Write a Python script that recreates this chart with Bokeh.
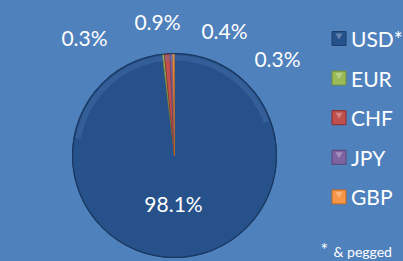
import math
from bokeh.plotting import figure
from bokeh.models import Range1d, ColumnDataSource
from bokeh.core.properties import value
from bokeh.embed import file_html
from bokeh.resources import INLINE

# ---- data ----
currencies = ["USD*", "EUR", "CHF", "JPY", "GBP"]
shares = [98.1, 0.3, 0.9, 0.4, 0.3]
footnote_star = "*"
footnote_text = "& pegged"

# ---- style / layout ----
colors = ["#26518A", "#9BBB59", "#C0504D", "#8064A2", "#F79646"]
border_colors = ["#1C3E6A", "#6F8A3A", "#8C2D2A", "#5A4578", "#B86A26"]
bg = "#4F81BD"
W, H = 403, 261
cx, cy_top, R = 174, 155, 102
# label offsets from pie centre (px, y downward)
label_offsets = [(-1, 48), (-90, -118), (-17, -134), (50, -125), (103, -97)]
legend_x, legend_y0, legend_dy = 338.5, 38, 39.6
FONT = "Lato"

def Y(y):
    return H - y

cy = Y(cy_top)

p = figure(width=W, height=H, output_backend="svg", toolbar_location=None,
           x_range=Range1d(0, W), y_range=Range1d(0, H), min_border=0)
p.axis.visible = False
p.grid.visible = False
p.outline_line_color = None
p.background_fill_color = bg
p.border_fill_color = bg

total = sum(shares)
starts, ends = [], []
acc = 0.0
for s in shares:
    a0 = acc / total * 2 * math.pi
    acc += s
    a1 = acc / total * 2 * math.pi
    starts.append(math.pi / 2 - a0)
    ends.append(math.pi / 2 - a1)

src = ColumnDataSource(dict(start=starts, end=ends, color=colors, lc=border_colors))
p.wedge(x=cx, y=cy, radius=R, start_angle="start", end_angle="end", direction="clock",
        fill_color="color", line_color="lc", line_width=0.8, source=src)
# subtle bevel highlight ring
p.annular_wedge(x=cx, y=cy, inner_radius=R - 7, outer_radius=R - 1.5,
                start_angle=math.radians(20), end_angle=math.radians(170),
                fill_color="#5C88C0", fill_alpha=0.25, line_color=None)
p.circle(x=cx, y=cy, radius=R, fill_color=None, line_color="#1A3860", line_width=1.2)

# data labels
lx = [cx + o[0] for o in label_offsets]
ly = [cy - o[1] for o in label_offsets]
ltxt = [f"{s:.1f}%" for s in shares]
p.text(x=lx, y=ly, text=ltxt, text_font=value(FONT), text_font_size="21px",
       text_color="white", text_align="center", text_baseline="middle")

# legend
ys = [Y(legend_y0 + i * legend_dy) for i in range(len(currencies))]
p.scatter(x=[legend_x] * len(currencies), y=ys, marker="square", size=14,
          fill_color=colors, line_color=border_colors, line_width=1)
p.scatter(x=[legend_x] * len(currencies), y=[y + 3 for y in ys], marker="inverted_triangle",
          size=7, fill_color="white", fill_alpha=0.3, line_color=None)
p.text(x=[legend_x + 12] * len(currencies), y=ys, text=currencies, text_font=value(FONT),
       text_font_size="21px", text_color="white", text_align="left", text_baseline="middle")

# footnote
p.text(x=[320], y=[Y(248)], text=[footnote_star], text_font=value(FONT), text_font_size="18px",
       text_color="white", text_align="left", text_baseline="middle")
p.text(x=[333], y=[Y(251)], text=[footnote_text], text_font=value(FONT), text_font_size="14px",
       text_color="white", text_align="left", text_baseline="middle")

html = file_html(p, INLINE)
html = html.replace("</head>", "<style>html,body{margin:0;padding:0;background:%s;overflow:hidden}</style></head>" % bg, 1)
open("out.html", "w").write(html)
